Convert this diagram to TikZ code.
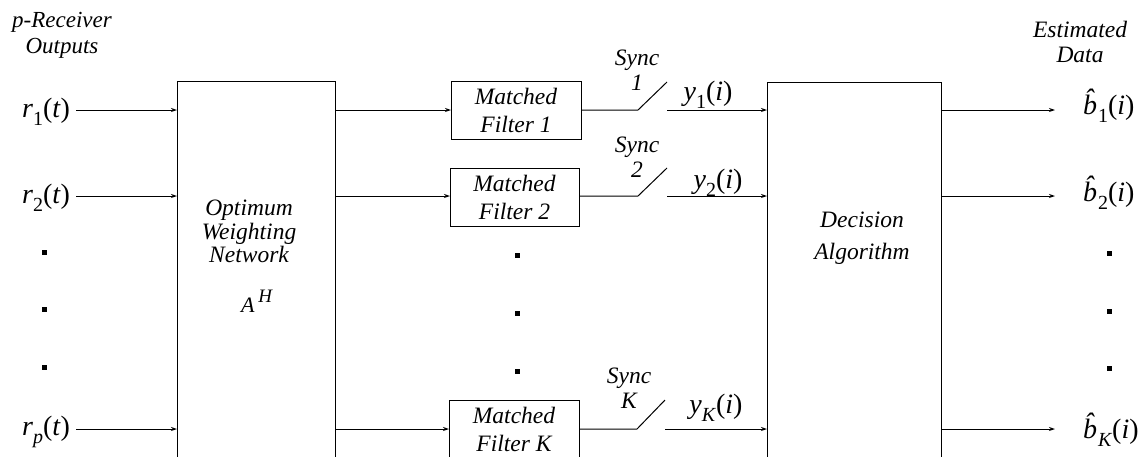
\documentclass[tikz,border=0pt]{standalone}
\usepackage{fontspec}
\setmainfont{Liberation Serif}
\usetikzlibrary{arrows.meta,calc}
\newcommand\sigl[3]{\textit{#1}\raisebox{-0.3em}{\fontsize{20}{20}\selectfont #2}(\textit{#3})}
\newcommand\bhatl[1]{{\itshape b^^^^0302}\kern1pt\raisebox{-0.3em}{\fontsize{20}{20}\selectfont #1}(\textit{i})}
\begin{document}
\begin{tikzpicture}[x=1pt,y=-1pt,
  every node/.style={inner sep=0pt, outer sep=0pt},
  box/.style={draw, line width=1pt, anchor=north west, align=center},
  txt/.style={font=\fontsize{23.5}{25}\selectfont\itshape, align=center},
  mft/.style={font=\fontsize{23.5}{28}\selectfont\itshape},
  sig/.style={font=\fontsize{28}{28}\selectfont},
  wire/.style={line width=1pt},
  conn/.style={wire, -{Stealth[length=6pt,width=4pt]}},
  dotm/.style={fill, minimum size=5pt, anchor=center}]
\useasboundingbox (0,0) rectangle (1142,456);
\clip (0,0) rectangle (1142,456);

\coordinate (row1) at (0,110);
\coordinate (row2) at (0,196);
\coordinate (rowK) at (0,429);

% titles
\node[txt, font=\fontsize{23}{26}\selectfont\itshape] (ptitle) at (62,35) {p-Receiver\\Outputs};
\node[txt, font=\fontsize{23.5}{25}\selectfont\itshape] (etitle) at (1080,42) {Estimated\\Data};

% big boxes
\node[box, minimum width=158pt, minimum height=400pt] (wn) at (177,81) {};
\node[box, minimum width=174pt, minimum height=400pt] (da) at (767,82) {};
\node[txt, font=\fontsize{23.5}{23.5}\selectfont\itshape, anchor=south] (wnt) at (249,263) {Optimum\\Weighting\\Network};
\node[anchor=base west, font=\fontsize{22}{22}\selectfont\itshape] (ah) at (241,312) {A\kern4pt\raisebox{10pt}{\fontsize{19}{19}\selectfont H}};
\node[txt, font=\fontsize{23.5}{32}\selectfont\itshape, anchor=north] (dat) at (862,212) {Decision\\Algorithm};

% matched filters
\node[box, mft, minimum width=130pt, minimum height=58pt] (mf1) at (451,81) {Matched\\Filter 1};
\node[box, mft, minimum width=129pt, minimum height=58pt] (mf2) at (450,168) {Matched\\Filter 2};
\node[box, mft, minimum width=130pt, minimum height=58pt] (mfK) at (449,400) {Matched\\Filter K};

% input labels
\node[sig, anchor=base east] (r1) at (70,117) {\sigl{r}{1}{t}};
\node[sig, anchor=base east] (r2) at (70,203) {\sigl{r}{2}{t}};
\node[sig, anchor=base east] (rp) at (70,435) {\sigl{r}{\textit{p}}{t}};

% dots
\foreach \n/\x/\y in {l1/44/252, l2/44/309, l3/44/367, m1/517/255, m2/517/313, m3/517/371, o1/1109/253, o2/1109/311, o3/1109/368}
  \node[dotm] (d\n) at (\x,\y) {};

% switches
\coordinate (s1a) at (638,110); \coordinate (s1b) at (667,82);  \coordinate (s1c) at (667,110);
\coordinate (s2a) at (638,196); \coordinate (s2b) at (667,168); \coordinate (s2c) at (667,196);
\coordinate (sKa) at (637,429); \coordinate (sKb) at (665,400); \coordinate (sKc) at (665,429);
\node[txt, anchor=south] (sy1) at (637,90) {Sync\\1};
\node[txt, anchor=south] (sy2) at (637,177) {Sync\\2};
\node[txt, anchor=south] (syK) at (629,408) {Sync\\K};

% y labels
\node[sig, anchor=base] (y1) at (708,100) {\sigl{y}{1}{i}};
\node[sig, anchor=base] (y2) at (718,188) {\sigl{y}{2}{i}};
\node[sig, anchor=base] (yK) at (716,413) {\sigl{y}{\textit{K}}{i}};

% outputs
\coordinate (e1) at (1055,110);
\coordinate (e2) at (1055,196);
\coordinate (eK) at (1055,429);
\node[sig, anchor=base west] (b1) at (1083,114) {\bhatl{1}};
\node[sig, anchor=base west] (b2) at (1083,201) {\bhatl{2}};
\node[sig, anchor=base west] (bK) at (1083,438) {\bhatl{\textit{K}}};

% connectors
\draw[conn] ($(r1.east |- row1)+(6,0)$) -- (wn.west |- row1);
\draw[conn] ($(r2.east |- row2)+(6,0)$) -- (wn.west |- row2);
\draw[conn] ($(rp.east |- rowK)+(6,0)$) -- (wn.west |- rowK);

\draw[conn] (wn.east |- row1) -- (mf1.west |- row1);
\draw[conn] (wn.east |- row2) -- (mf2.west |- row2);
\draw[conn] (wn.east |- rowK) -- (mfK.west |- rowK);

\draw[wire] (mf1.east |- row1) -- (s1a) -- (s1b);
\draw[wire] (mf2.east |- row2) -- (s2a) -- (s2b);
\draw[wire] (mfK.east |- rowK) -- (sKa) -- (sKb);

\draw[conn] (s1c) -- (da.west |- row1);
\draw[conn] (s2c) -- (da.west |- row2);
\draw[conn] (sKc) -- (da.west |- rowK);

\draw[conn] (da.east |- row1) -- (e1);
\draw[conn] (da.east |- row2) -- (e2);
\draw[conn] (da.east |- rowK) -- (eK);
\end{tikzpicture}
\end{document}
